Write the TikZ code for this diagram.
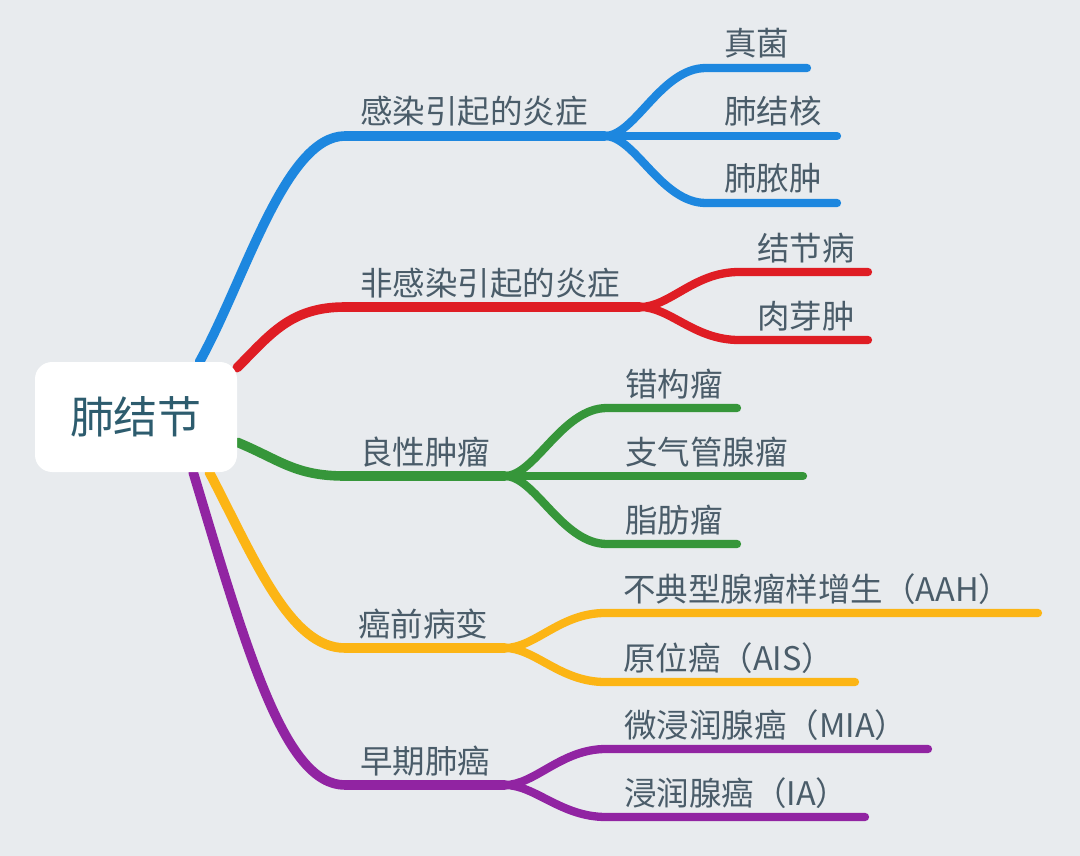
\documentclass[tikz,border=0pt]{standalone}
\usepackage{fontspec}
\setmainfont{Noto Sans CJK SC}
\usetikzlibrary{backgrounds,calc}

\definecolor{bgc}{HTML}{E8EBEE}
\definecolor{labtext}{HTML}{4A5C69}
\definecolor{roottext}{HTML}{2D5C6E}
\definecolor{cblue}{HTML}{1D87DF}
\definecolor{cred}{HTML}{DF1D24}
\definecolor{cgreen}{HTML}{36963A}
\definecolor{cyellow}{HTML}{FCB515}
\definecolor{cpurple}{HTML}{9124A2}

\begin{document}
\begin{tikzpicture}[
    x=1pt,
    y=-1pt,
    root/.style={
        fill=white,
        rounded corners=17pt,
        minimum width=202pt,
        minimum height=110pt,
        inner sep=0pt,
        text=roottext,
        font=\fontsize{44}{50}\selectfont
    },
    lab/.style={
        anchor=base west,
        inner sep=0pt,
        text=labtext,
        font=\fontsize{32.5}{38}\selectfont
    },
    trunk/.style={line width=9.6pt, line cap=round, line join=round},
    twig/.style={line width=8.3pt, line cap=round, line join=round}
]
\useasboundingbox (0,0) rectangle (1080,856);

% ============================================================
% 中心主题
% ============================================================
\node[root] (root) at (136,417) {肺结节};

% ============================================================
% 一级分支：起点与分叉点
% ============================================================
\coordinate (ganran-s) at (345,136);   \coordinate (ganran-f) at (605,136);
\coordinate (feigr-s) at (345,307);    \coordinate (feigr-f) at (640,307);
\coordinate (liang-s) at (345,476);    \coordinate (liang-f) at (505,476);
\coordinate (aiqian-s) at (345,648);   \coordinate (aiqian-f) at (505,648);
\coordinate (zaoqi-s) at (345,785);    \coordinate (zaoqi-f) at (505,785);

\node[lab] (ganran) at ($(ganran-s)+(15,-12)$) {感染引起的炎症};
\node[lab] (feigr) at ($(feigr-s)+(15,-12)$) {非感染引起的炎症};
\node[lab] (liang) at ($(liang-s)+(15,-12)$) {良性肿瘤};
\node[lab] (aiqian) at ($(aiqian-s)+(13,-12)$) {癌前病变};
\node[lab] (zaoqi) at ($(zaoqi-s)+(15,-12)$) {早期肺癌};

% ============================================================
% 二级分支：横线起止
% ============================================================
\coordinate (zhenjun-s) at (706,68);   \coordinate (zhenjun-e) at (807,68);
\coordinate (jiehe-s) at (706,136);    \coordinate (jiehe-e) at (837,136);
\coordinate (nongzhong-s) at (706,203); \coordinate (nongzhong-e) at (837,203);

\coordinate (jiejie-s) at (739,272);   \coordinate (jiejie-e) at (868,272);
\coordinate (rouya-s) at (739,340);    \coordinate (rouya-e) at (868,340);

\coordinate (cuogou-s) at (607,408);   \coordinate (cuogou-e) at (737,408);
\coordinate (zhiqi-s) at (607,476);    \coordinate (zhiqi-e) at (803,476);
\coordinate (zhifang-s) at (607,544);  \coordinate (zhifang-e) at (737,544);

\coordinate (aah-s) at (605,613);      \coordinate (aah-e) at (1038,613);
\coordinate (ais-s) at (605,682);      \coordinate (ais-e) at (855,682);

\coordinate (mia-s) at (606,749);      \coordinate (mia-e) at (928,749);
\coordinate (ia-s) at (606,817);       \coordinate (ia-e) at (865,817);

\node[lab] (zhenjun) at ($(zhenjun-s)+(18,-12)$) {真菌};
\node[lab] (jiehe) at ($(jiehe-s)+(18,-12)$) {肺结核};
\node[lab] (nongzhong) at ($(nongzhong-s)+(18,-12)$) {肺脓肿};
\node[lab] (jiejie) at ($(jiejie-s)+(18,-12)$) {结节病};
\node[lab] (rouya) at ($(rouya-s)+(18,-12)$) {肉芽肿};
\node[lab] (cuogou) at ($(cuogou-s)+(18,-12)$) {错构瘤};
\node[lab] (zhiqi) at ($(zhiqi-s)+(18,-12)$) {支气管腺瘤};
\node[lab] (zhifang) at ($(zhifang-s)+(18,-12)$) {脂肪瘤};
\node[lab] (aah) at ($(aah-s)+(18,-12)$) {不典型腺瘤样增生（AAH）};
\node[lab] (ais) at ($(ais-s)+(18,-12)$) {原位癌（AIS）};
\node[lab] (mia) at ($(mia-s)+(18,-12)$) {微浸润腺癌（MIA）};
\node[lab] (ia) at ($(ia-s)+(18,-12)$) {浸润腺癌（IA）};

% ============================================================
% 连线（放在背景层，被中心主题遮住）
% ============================================================
\begin{pgfonlayer}{background}
\fill[bgc] (0,0) rectangle (1080,856);

% 感染引起的炎症
\draw[trunk, cblue] (root.41) .. controls (245,280) and (285,136) .. (ganran-s) -- (ganran-f);
\draw[twig, cblue] (ganran-f) .. controls +(30,0) and +(-45,0) .. (zhenjun-s) -- (zhenjun-e);
\draw[twig, cblue] (ganran-f) -- (jiehe-e);
\draw[twig, cblue] (ganran-f) .. controls +(30,0) and +(-45,0) .. (nongzhong-s) -- (nongzhong-e);

% 非感染引起的炎症
\draw[trunk, cred] (root.26) .. controls (270,335) and (290,307) .. (feigr-s) -- (feigr-f);
\draw[twig, cred] (feigr-f) .. controls +(30,0) and +(-45,0) .. (jiejie-s) -- (jiejie-e);
\draw[twig, cred] (feigr-f) .. controls +(30,0) and +(-45,0) .. (rouya-s) -- (rouya-e);

% 良性肿瘤
\draw[trunk, cgreen] (root.-14) .. controls (280,460) and (295,476) .. (liang-s) -- (liang-f);
\draw[twig, cgreen] (liang-f) .. controls +(30,0) and +(-45,0) .. (cuogou-s) -- (cuogou-e);
\draw[twig, cgreen] (liang-f) -- (zhiqi-e);
\draw[twig, cgreen] (liang-f) .. controls +(30,0) and +(-45,0) .. (zhifang-s) -- (zhifang-e);

% 癌前病变
\draw[trunk, cyellow] (root.-37) .. controls (255,560) and (290,648) .. (aiqian-s) -- (aiqian-f);
\draw[twig, cyellow] (aiqian-f) .. controls +(30,0) and +(-45,0) .. (aah-s) -- (aah-e);
\draw[twig, cyellow] (aiqian-f) .. controls +(30,0) and +(-45,0) .. (ais-s) -- (ais-e);

% 早期肺癌
\draw[trunk, cpurple] (root.-44) .. controls (248,655) and (285,785) .. (zaoqi-s) -- (zaoqi-f);
\draw[twig, cpurple] (zaoqi-f) .. controls +(30,0) and +(-45,0) .. (mia-s) -- (mia-e);
\draw[twig, cpurple] (zaoqi-f) .. controls +(30,0) and +(-45,0) .. (ia-s) -- (ia-e);
\end{pgfonlayer}

\end{tikzpicture}
\end{document}
